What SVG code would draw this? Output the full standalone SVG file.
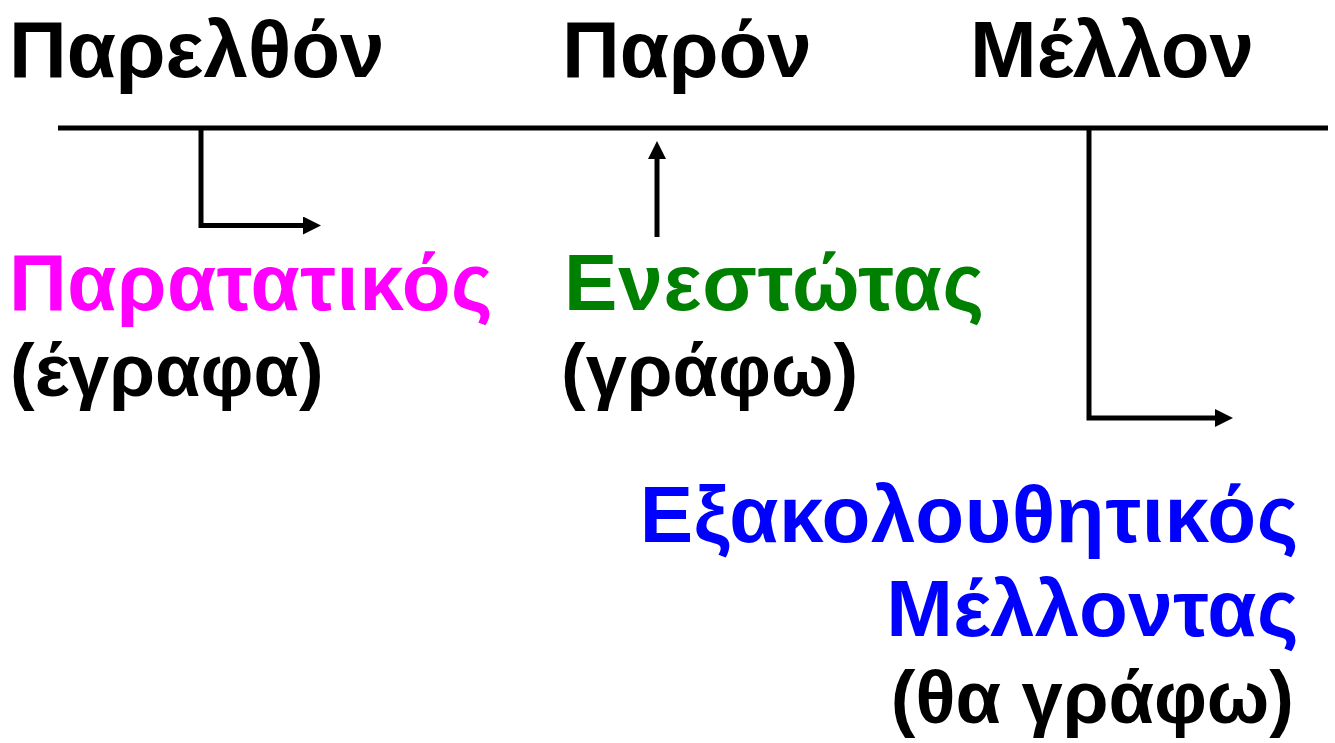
<svg xmlns="http://www.w3.org/2000/svg" width="1335" height="743" viewBox="0 0 1335 743">
<style>
text{font-family:"Liberation Sans",Arial,sans-serif;font-weight:bold;font-size:80px}
text.s{font-size:74px}
.k{fill:#000}.m{fill:#FF00FF}.g{fill:#008000}.b{fill:#0000FF}
.ln{fill:none;stroke:#000;stroke-width:5;stroke-linejoin:miter}
</style>
<defs>
<marker id="ah" viewBox="0 0 18 18" refX="0" refY="9" markerWidth="18" markerHeight="18" markerUnits="userSpaceOnUse" orient="auto">
<path d="M0,0 L18,9 L0,18 z" fill="#000"/>
</marker>
</defs>
<rect width="1335" height="743" fill="#fff"/>
<g id="timeline"><line class="ln" x1="58" y1="128" x2="1328" y2="128"/></g>
<g id="connectors">
<path class="ln" d="M201,128 V225.5 H303" marker-end="url(#ah)"/>
<path class="ln" d="M657,237 V159" marker-end="url(#ah)"/>
<path class="ln" d="M1089,128 V418 H1215" marker-end="url(#ah)"/>
</g>
<g id="past"><text class="k" x="9" y="77">Παρελθόν</text></g>
<g id="present"><text class="k" x="562" y="77">Παρόν</text></g>
<g id="future"><text class="k" x="970" y="77">Μέλλον</text></g>
<g id="imperfect"><text class="m" x="9" y="310" letter-spacing="0.5">Παρατατικός</text><text class="k s" x="10" y="396">(έγραφα)</text></g>
<g id="presenttense"><text class="g" x="564" y="310" letter-spacing="0.8">Ενεστώτας</text><text class="k s" x="561" y="396">(γράφω)</text></g>
<g id="futurecont" text-anchor="end"><text class="b" x="1299" y="542" letter-spacing="0.65">Εξακολουθητικός</text><text class="b" x="1299" y="636" letter-spacing="0.5">Μέλλοντας</text><text class="k s" x="1294" y="723">(θα γράφω)</text></g>
</svg>
